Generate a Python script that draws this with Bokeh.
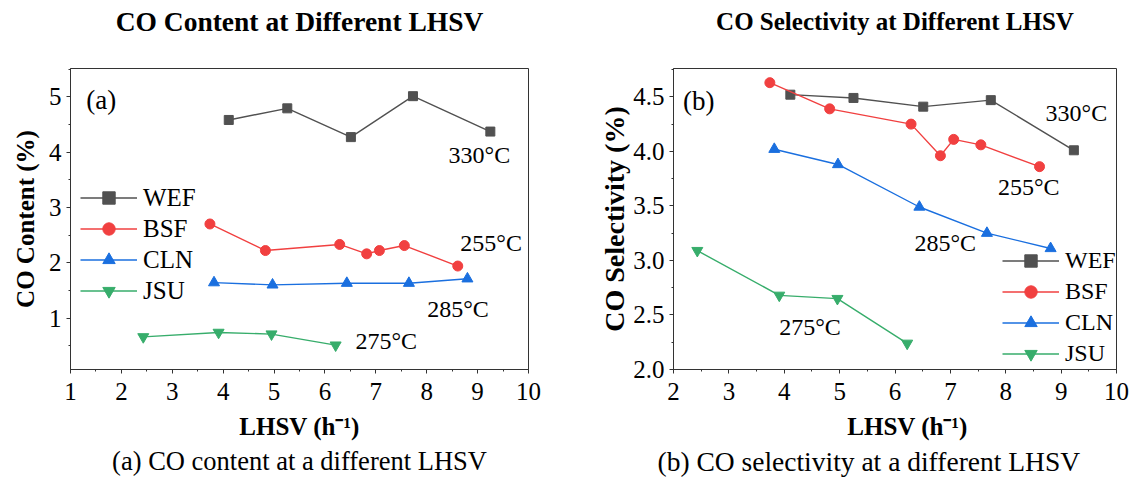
from bokeh.plotting import figure
from bokeh.models import (Legend, LegendItem, Label, Title, SingleIntervalTicker,
                          NumeralTickFormatter, Range1d)
from bokeh.layouts import row
from bokeh.embed import file_html
from bokeh.resources import INLINE

# ---------------- data ----------------
series = ["WEF", "BSF", "CLN", "JSU"]

# (a) CO content (%)
a_wef_x = [4.11, 5.26, 6.51, 7.73, 9.25]
a_wef_y = [4.58, 4.79, 4.27, 5.01, 4.37]
a_bsf_x = [3.74, 4.83, 6.29, 6.82, 7.07, 7.56, 8.61]
a_bsf_y = [2.70, 2.22, 2.33, 2.16, 2.22, 2.31, 1.94]
a_cln_x = [3.82, 4.97, 6.43, 7.65, 8.80]
a_cln_y = [1.64, 1.60, 1.63, 1.63, 1.71]
a_jsu_x = [2.43, 3.91, 4.95, 6.21]
a_jsu_y = [0.66, 0.74, 0.71, 0.51]

# (b) CO selectivity (%)
b_wef_x = [4.11, 5.25, 6.51, 7.73, 9.23]
b_wef_y = [4.52, 4.49, 4.41, 4.47, 4.01]
b_bsf_x = [3.74, 4.82, 6.29, 6.82, 7.06, 7.55, 8.61]
b_bsf_y = [4.63, 4.39, 4.25, 3.96, 4.11, 4.06, 3.86]
b_cln_x = [3.82, 4.97, 6.44, 7.66, 8.81]
b_cln_y = [4.02, 3.88, 3.49, 3.25, 3.11]
b_jsu_x = [2.43, 3.91, 4.96, 6.22]
b_jsu_y = [3.09, 2.68, 2.65, 2.24]

temps = ["330\u00b0C", "255\u00b0C", "285\u00b0C", "275\u00b0C"]
titles = ["CO Content at Different LHSV", "CO Selectivity at Different LHSV"]
captions = ["(a) CO content at a different LHSV", "(b) CO selectivity at a different LHSV"]
ylabels = ["CO Content (%)", "CO Selectivity (%)"]
xlabels = ["LHSV (h\u207b\u00b9)", "\u2002\u2002LHSV (h\u207b\u00b9)"]

colors = ["#515151", "#F14040", "#1A6FDF", "#37AD6B"]
markers = ["square", "circle", "triangle", "inverted_triangle"]
msizes = [9, 10, 11, 11]

FONT = "Liberation Serif"
AX = "#333333"


def make_fig(width, mb_left, mb_right, xr, yr, xint, yint, yfmt,
             title, tsize, tstand, spacer,
             caption, csize, calign, coff, xlabel, ylabel, ysize, ystand):
    p = figure(width=width, height=478, output_backend="svg", toolbar_location=None,
               x_range=Range1d(*xr), y_range=Range1d(*yr), title_location=None,
               min_border_left=mb_left, min_border_right=mb_right,
               min_border_top=67, min_border_bottom=107)
    p.grid.visible = False
    p.outline_line_color = AX
    p.outline_line_width = 1
    p.background_fill_color = "white"
    p.border_fill_color = "white"

    # spacer between frame and title, then the title itself (outermost)
    p.add_layout(Title(text=" ", text_font_size="1px", standoff=spacer), "above")
    p.add_layout(Title(text=title, align="center", text_font=FONT, text_font_size=tsize,
                       text_font_style="bold", text_color="black", standoff=tstand), "above")
    p.add_layout(Title(text=caption, align=calign, text_font=FONT, text_font_size=csize,
                       text_font_style="normal", text_color="black", standoff=3,
                       offset=coff), "below")

    p.xaxis.ticker = SingleIntervalTicker(interval=xint, num_minor_ticks=2)
    p.yaxis.ticker = SingleIntervalTicker(interval=yint, num_minor_ticks=2)
    if yfmt:
        p.yaxis.formatter = NumeralTickFormatter(format=yfmt)
    for ax in (p.xaxis, p.yaxis):
        ax.axis_line_color = AX
        ax.major_tick_line_color = AX
        ax.minor_tick_line_color = AX
        ax.major_tick_in = 0
        ax.major_tick_out = 4
        ax.minor_tick_in = 0
        ax.minor_tick_out = 2
        ax.major_label_text_font = FONT
        ax.major_label_text_font_size = "25px"
        ax.major_label_text_color = "black"
        ax.axis_label_text_font = FONT
        ax.axis_label_text_font_size = "25px"
        ax.axis_label_text_font_style = "bold"
        ax.axis_label_text_color = "black"
    p.xaxis.axis_label = xlabel
    p.xaxis.major_label_standoff = 9
    p.xaxis.axis_label_standoff = 10
    p.yaxis.axis_label = ylabel
    p.yaxis.axis_label_text_font_size = ysize
    p.yaxis.major_label_standoff = 5
    p.yaxis.axis_label_standoff = ystand
    return p


def add_series(p, xs, ys):
    items = []
    for name, x, y, c, m, s in zip(series, xs, ys, colors, markers, msizes):
        r1 = p.line(x, y, line_color=c, line_width=1.4)
        r2 = p.scatter(x, y, marker=m, size=s, fill_color=c, line_color=c)
        items.append(LegendItem(label=name, renderers=[r1, r2]))
    return items


def style_legend(items, loc, size):
    lg = Legend(items=items, location=loc, orientation="vertical")
    lg.label_text_font = FONT
    lg.label_text_font_size = size
    lg.label_text_color = "black"
    lg.glyph_width = 57
    lg.glyph_height = 31
    lg.label_height = 31
    lg.spacing = 0
    lg.padding = 0
    lg.margin = 0
    lg.label_standoff = 6
    lg.border_line_alpha = 0
    lg.background_fill_alpha = 0
    return lg


def add_text(p, x, y, t, size="24px"):
    p.add_layout(Label(x=x, y=y, text=t, text_font=FONT, text_font_size=size,
                       text_align="left", text_baseline="middle", text_color="black"))


# ---------------- (a) ----------------
pa = make_fig(574, 70, 46, (1, 10), (0.07, 5.51), 1, 1, None,
              titles[0], "27.5px", 6, 26,
              captions[0], "26.5px", "center", 0, xlabels[0], ylabels[0], "25px", 7)
items_a = add_series(pa, [a_wef_x, a_bsf_x, a_cln_x, a_jsu_x],
                     [a_wef_y, a_bsf_y, a_cln_y, a_jsu_y])
pa.add_layout(style_legend(items_a, (10, 63), "25px"), "center")
add_text(pa, 1.31, 4.94, "(a)", "27px")
for t, (x, y) in zip(temps, [(8.43, 3.94), (8.66, 2.35), (8.01, 1.17), (6.60, 0.58)]):
    add_text(pa, x, y, t)

# ---------------- (b) ----------------
pb = make_fig(574, 99, 32, (2, 10), (2.0, 4.76), 1, 0.5, "0.0",
              titles[1], "25px", 8, 27,
              captions[1], "27.5px", "left", -16, xlabels[1], ylabels[1], "28px", 0)
items_b = add_series(pb, [b_wef_x, b_bsf_x, b_cln_x, b_jsu_x],
                     [b_wef_y, b_bsf_y, b_cln_y, b_jsu_y])
pb.add_layout(style_legend(items_b, (329, 0), "24px"), "center")
add_text(pb, 2.17, 4.46, "(b)", "27px")
for t, (x, y) in zip(temps, [(8.72, 4.35), (7.86, 3.67), (6.35, 3.16), (3.91, 2.39)]):
    add_text(pb, x, y, t)

layout = row(pa, pb)
open("out.html", "w").write(file_html(layout, INLINE))
